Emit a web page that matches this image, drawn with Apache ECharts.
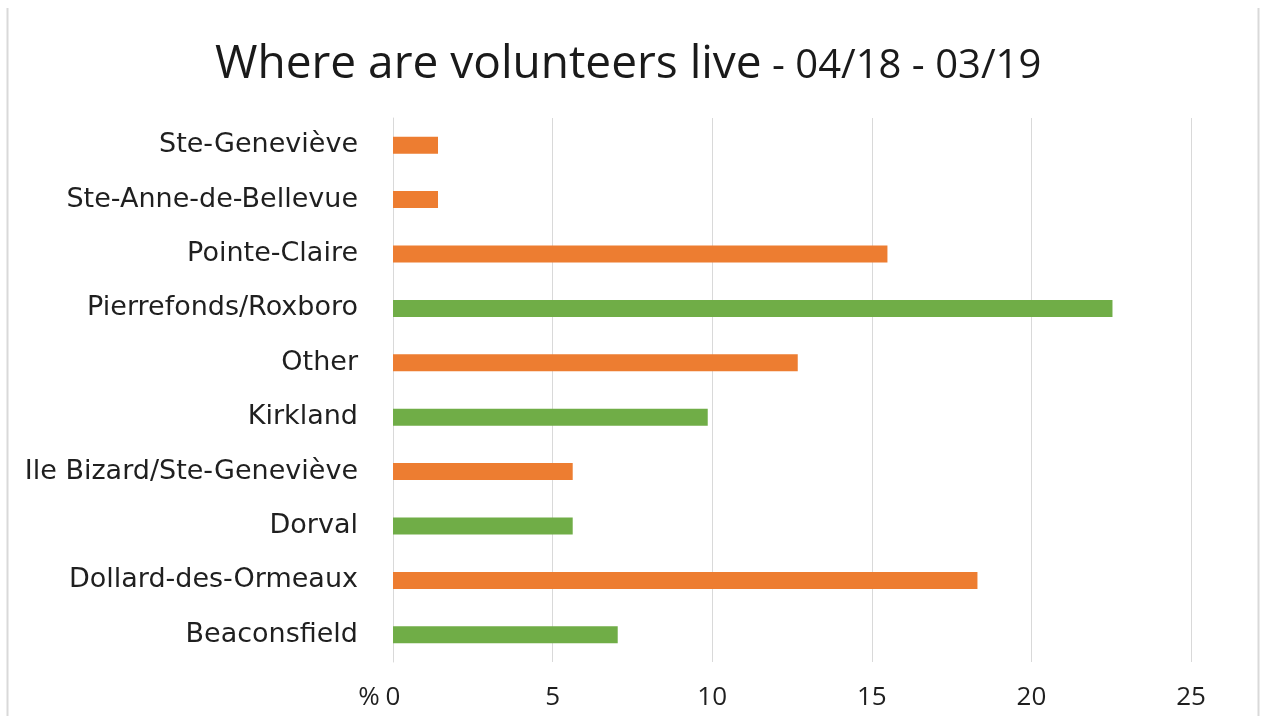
<!DOCTYPE html>
<html>
<head>
<meta charset="utf-8">
<script src="https://cdn.jsdelivr.net/npm/echarts@6/dist/echarts.min.js"></script>
<style>
html,body{margin:0;padding:0;background:#fff;}
#chart{width:1263px;height:716px;}
</style>
</head>
<body>
<div id="chart"></div>
<script>
const categories = ['Ste-Geneviève','Ste-Anne-de-Bellevue','Pointe-Claire','Pierrefonds/Roxboro','Other','Kirkland','Ile Bizard/Ste-Geneviève','Dorval','Dollard-des-Ormeaux','Beaconsfield'];
const orangeValues = [1.41, 1.41, 15.49, '-', 12.68, '-', 5.63, '-', 18.31, '-'];
const greenValues = ['-', '-', '-', 22.54, '-', 9.86, '-', 5.63, '-', 7.04];
const xTicks = [0, 5, 10, 15, 20, 25];

const FONT = '"Open Sans", sans-serif';
const LABEL_FONT = '"DejaVu Sans", sans-serif';
const chart = echarts.init(document.getElementById('chart'), null, {renderer: 'canvas'});
chart.setOption({
  backgroundColor: '#ffffff',
  animation: false,
  title: {
    left: 210,
    top: 30,
    text: '{a|Where are volunteers live}{b| - 04/18 - 03/19}',
    textStyle: {
      fontWeight: 'normal',
      rich: {
        a: {fontFamily: FONT, fontSize: 46, fontWeight: 'normal', color: '#1a1a1a', lineHeight: 60},
        b: {fontFamily: FONT, fontSize: 40, fontWeight: 'normal', color: '#1a1a1a', lineHeight: 60, padding: [4, 0, 0, 0]}
      }
    }
  },
  graphic: [
    {type: 'line', shape: {x1: 7.5, y1: 8, x2: 7.5, y2: 716}, style: {stroke: '#d9d9d9', lineWidth: 2}},
    {type: 'line', shape: {x1: 1258.5, y1: 8, x2: 1258.5, y2: 716}, style: {stroke: '#d9d9d9', lineWidth: 2}}
  ],
  grid: {left: 393, right: 72, top: 118, bottom: 54, containLabel: false},
  xAxis: {
    type: 'value',
    min: xTicks[0],
    max: xTicks[xTicks.length - 1],
    interval: 5,
    name: '%',
    nameLocation: 'start',
    nameGap: 6,
    nameTextStyle: {fontFamily: FONT, fontSize: 26, color: '#1f1f1f', align: 'right', verticalAlign: 'top', padding: [23, 0, 0, 0]},
    axisLine: {show: false},
    axisTick: {show: false},
    axisLabel: {fontFamily: FONT, fontSize: 26, color: '#1f1f1f', margin: 23},
    splitLine: {show: true, lineStyle: {color: '#d9d9d9', width: 1}}
  },
  yAxis: {
    type: 'category',
    data: categories,
    inverse: true,
    axisLine: {show: true, lineStyle: {color: '#d9d9d9', width: 1}},
    axisTick: {show: false},
    axisLabel: {fontFamily: LABEL_FONT, fontSize: 27, color: '#1f1f1f', margin: 35}
  },
  series: [
    {type: 'bar', name: 'orange', stack: 'all', data: orangeValues, barWidth: 17, itemStyle: {color: '#ED7D31'}},
    {type: 'bar', name: 'green', stack: 'all', data: greenValues, barWidth: 17, itemStyle: {color: '#70AD47'}}
  ]
});
</script>
</body>
</html>
